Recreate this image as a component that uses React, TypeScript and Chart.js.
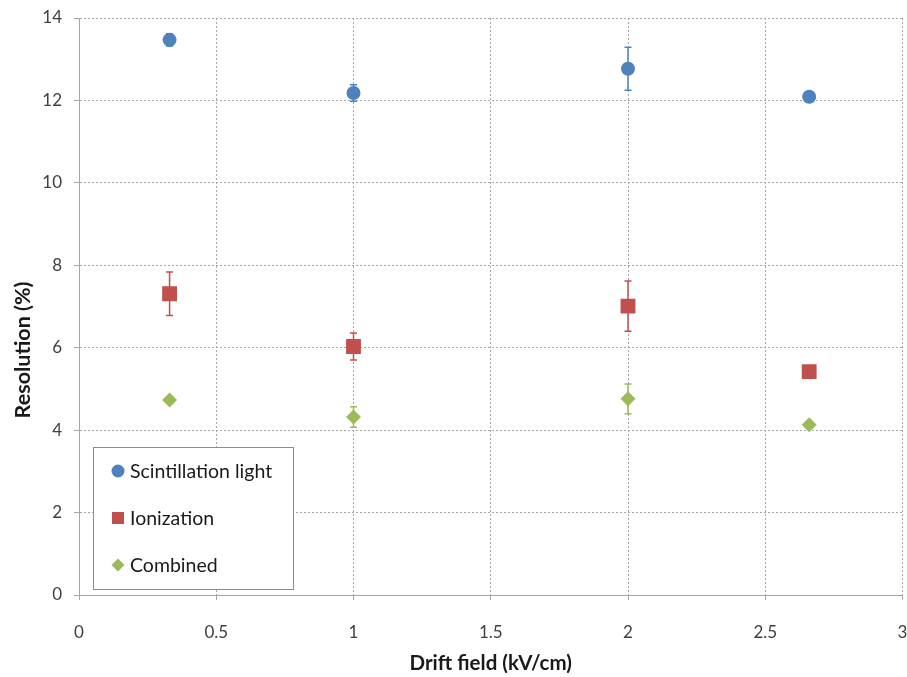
import React, { useEffect, useRef } from "react";
import { Chart, registerables } from "chart.js";

Chart.register(...registerables);

const driftField = [0.33, 1, 2, 2.66];
const scintValues = [13.47, 12.18, 12.77, 12.09];
const scintErrors = [0.15, 0.2, 0.52, 0.1];
const ionValues = [7.31, 6.03, 7.01, 5.42];
const ionErrors = [0.53, 0.33, 0.61, 0.1];
const combValues = [4.73, 4.32, 4.76, 4.13];
const combErrors = [0.08, 0.25, 0.36, 0.08];
const seriesNames = ["Scintillation light", "Ionization", "Combined"];
const seriesColors = ["#4f81bd", "#c0504d", "#9bbb59"];
const seriesStyles = ["circle", "rect", "rectRot"];
const seriesRadii = [7, 10.5, 7.5];
const legendSizes = [6.5, 6, 6.5];
const yTitle = "Resolution (%)";
const xTitle = "Drift field (kV/cm)";

const FONT = "Lato, 'Open Sans', sans-serif";

function drawMarker(ctx: CanvasRenderingContext2D, style: string, cx: number, cy: number, s: number) {
  ctx.beginPath();
  if (style === "circle") {
    ctx.arc(cx, cy, s, 0, Math.PI * 2);
  } else if (style === "rect") {
    ctx.rect(cx - s, cy - s, 2 * s, 2 * s);
  } else {
    ctx.moveTo(cx, cy - s);
    ctx.lineTo(cx + s, cy);
    ctx.lineTo(cx, cy + s);
    ctx.lineTo(cx - s, cy);
    ctx.closePath();
  }
  ctx.fill();
}

const errorBarPlugin = {
  id: "errorBars",
  beforeDatasetsDraw(chart: any) {
    const ctx = chart.ctx;
    const xs = chart.scales.x;
    const ys = chart.scales.y;
    chart.data.datasets.forEach((ds: any) => {
      const errs: number[] = ds.errors || [];
      ctx.save();
      ctx.strokeStyle = ds.backgroundColor;
      ctx.lineWidth = 1.5;
      ds.data.forEach((p: any, i: number) => {
        const e = errs[i] || 0;
        const px = xs.getPixelForValue(p.x);
        const top = ys.getPixelForValue(p.y + e);
        const bot = ys.getPixelForValue(p.y - e);
        ctx.beginPath();
        ctx.moveTo(px, top);
        ctx.lineTo(px, bot);
        ctx.moveTo(px - 3.5, top);
        ctx.lineTo(px + 3.5, top);
        ctx.moveTo(px - 3.5, bot);
        ctx.lineTo(px + 3.5, bot);
        ctx.stroke();
      });
      ctx.restore();
    });
  },
};

const yTitlePlugin = {
  id: "yTitle",
  afterDraw(chart: any) {
    const ctx = chart.ctx;
    const area = chart.chartArea;
    ctx.save();
    ctx.translate(23, area.bottom - 245);
    ctx.rotate(-Math.PI / 2);
    ctx.font = `bold 21.5px ${FONT}`;
    ctx.fillStyle = "#1a1a1a";
    ctx.textAlign = "center";
    ctx.textBaseline = "middle";
    ctx.fillText(yTitle, 0, 0);
    ctx.restore();
  },
};

const legendBoxPlugin = {
  id: "legendBox",
  afterDatasetsDraw(chart: any) {
    const ctx = chart.ctx;
    const area = chart.chartArea;
    const left = area.left + 14;
    const w = 200;
    const h = 142;
    const top = area.bottom - 6 - h;
    ctx.save();
    ctx.fillStyle = "#ffffff";
    ctx.fillRect(left, top, w, h);
    ctx.strokeStyle = "#8c8c8c";
    ctx.lineWidth = 1;
    ctx.strokeRect(left + 0.5, top + 0.5, w, h);
    ctx.font = `19.5px ${FONT}`;
    ctx.textBaseline = "middle";
    ctx.textAlign = "left";
    seriesNames.forEach((name, i) => {
      const cy = top + 24 + i * 47;
      const cx = left + 25;
      ctx.fillStyle = seriesColors[i];
      drawMarker(ctx, seriesStyles[i], cx, cy, legendSizes[i]);
      ctx.fillStyle = "#1a1a1a";
      ctx.fillText(name, left + 37, cy + 1);
    });
    ctx.restore();
  },
};

function App() {
  const ref = useRef<HTMLCanvasElement | null>(null);
  useEffect(() => {
    document.body.style.margin = "0";
    const mk = (vals: number[]) => vals.map((v, i) => ({ x: driftField[i], y: v }));
    const valuesList = [scintValues, ionValues, combValues];
    const errorsList = [scintErrors, ionErrors, combErrors];
    const chart = new Chart(ref.current as HTMLCanvasElement, {
      type: "scatter",
      data: {
        datasets: seriesNames.map((name, i) => ({
          label: name,
          data: mk(valuesList[i]),
          errors: errorsList[i],
          backgroundColor: seriesColors[i],
          borderColor: seriesColors[i],
          borderWidth: 0,
          pointStyle: seriesStyles[i],
          pointRadius: seriesRadii[i],
          pointHoverRadius: seriesRadii[i],
        })) as any,
      },
      options: {
        animation: false,
        responsive: false,
        layout: { padding: { top: 0, right: 0, left: 4, bottom: 1 } },
        plugins: {
          legend: { display: false },
          tooltip: { enabled: false },
        },
        scales: {
          x: {
            type: "linear",
            min: 0,
            max: 3,
            ticks: {
              stepSize: 0.5,
              color: "#404040",
              font: { family: FONT, size: 17 },
              padding: 22,
              maxRotation: 0,
              callback: (v: any) => String(v),
            },
            grid: { color: "#a6a6a6", tickColor: "#a6a6a6", tickLength: 5, tickBorderDash: [] },
            border: { color: "#a6a6a6", dash: [2, 2], width: 1 },
            title: {
              display: true,
              text: xTitle,
              color: "#1a1a1a",
              font: { family: FONT, size: 20.5, weight: "bold" },
              padding: { top: 4, bottom: 0 },
            },
            afterFit(scale: any) {
              scale.height = 81;
              scale.paddingRight = 0;
            },
          },
          y: {
            type: "linear",
            min: 0,
            max: 14,
            ticks: {
              stepSize: 2,
              color: "#404040",
              font: { family: FONT, size: 17 },
              padding: 12,
              callback: (v: any) => String(v),
            },
            grid: { color: "#a6a6a6", tickColor: "#a6a6a6", tickLength: 5, tickBorderDash: [] },
            border: { color: "#a6a6a6", dash: [2, 2], width: 1 },
            title: { display: false },
            afterFit(scale: any) {
              scale.width = 75;
              scale.paddingTop = 18;
            },
          },
        },
      } as any,
      plugins: [errorBarPlugin, legendBoxPlugin, yTitlePlugin],
    });
    return () => chart.destroy();
  }, []);
  return (
    <div style={{ width: 907, height: 677, background: "#fff", overflow: "hidden" }}>
      <canvas ref={ref} width={913} height={677} style={{ display: "block" }} />
    </div>
  );
}

export default App;
